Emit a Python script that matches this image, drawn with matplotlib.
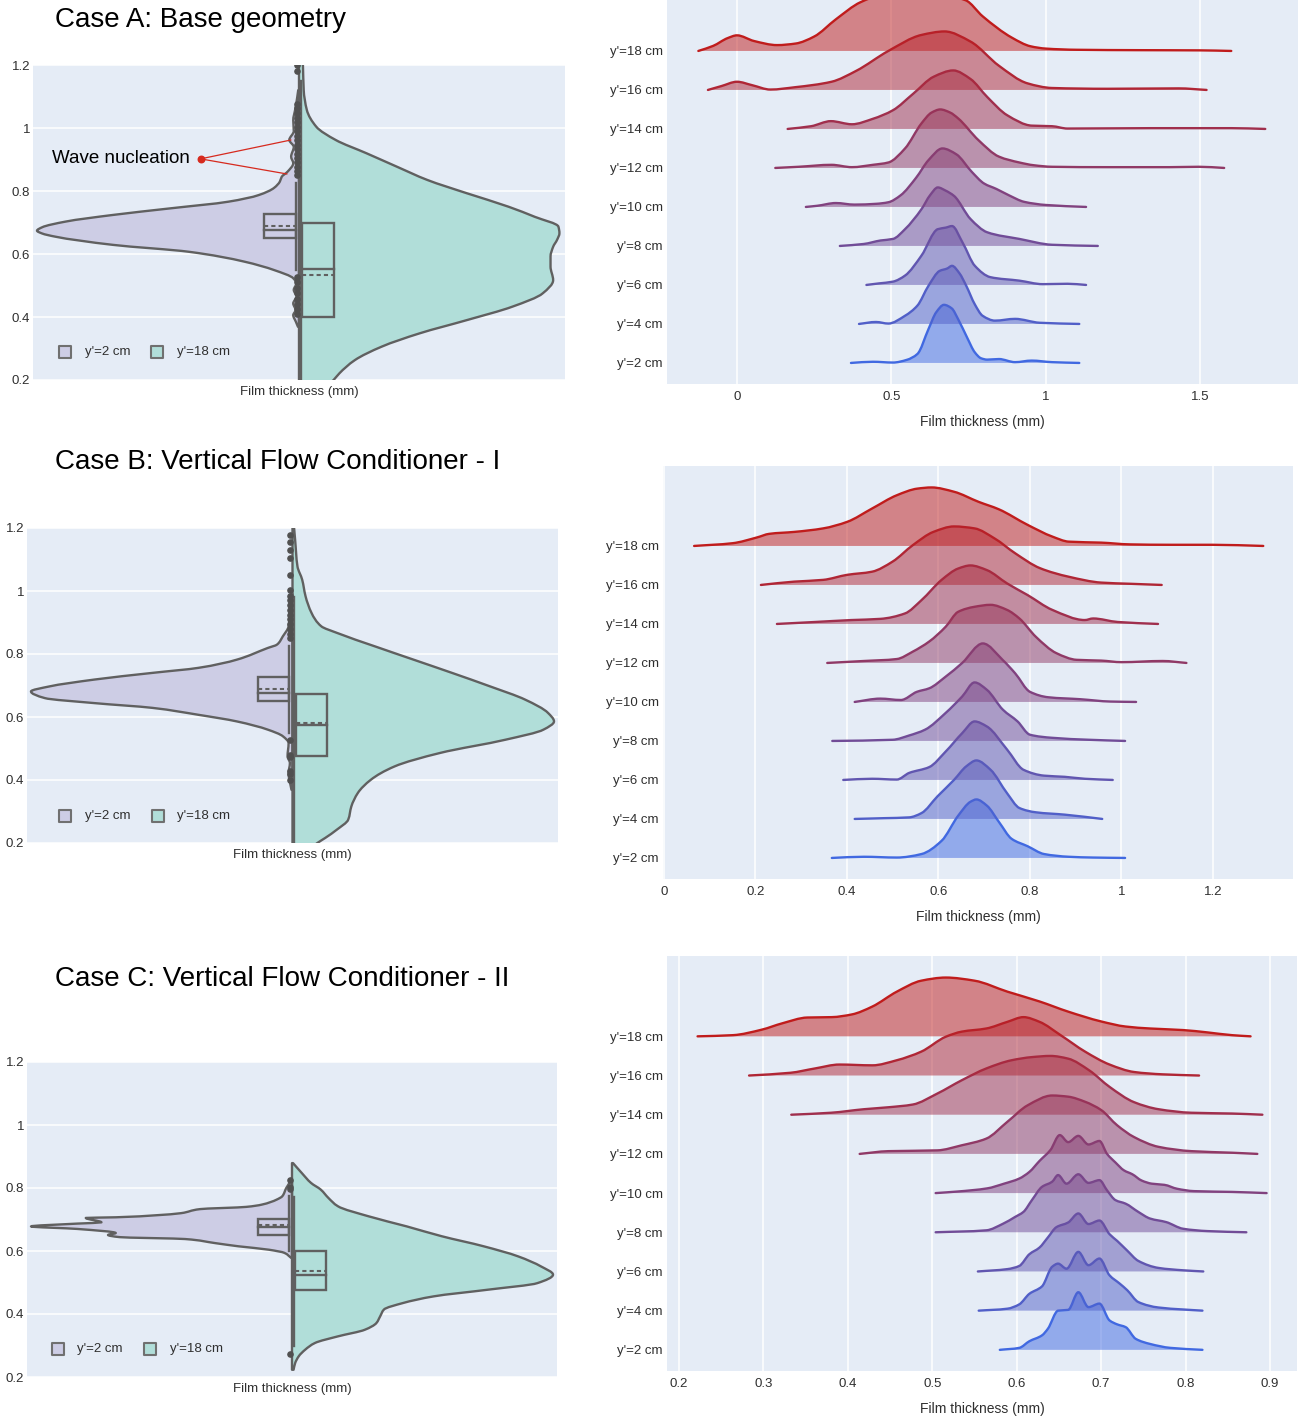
import numpy as np
import matplotlib
matplotlib.use("Agg")
import matplotlib.pyplot as plt
from matplotlib.patches import Rectangle, PathPatch
from matplotlib.path import Path

plt.rcParams['font.family'] = ['Liberation Sans', 'DejaVu Sans']

# ---------------------------------------------------------------
# Data
# ---------------------------------------------------------------
RIDGE_LABELS = ["y'=2 cm", "y'=4 cm", "y'=6 cm", "y'=8 cm", "y'=10 cm",
                "y'=12 cm", "y'=14 cm", "y'=16 cm", "y'=18 cm"]
LEGEND_LABELS = ["y'=2 cm", "y'=18 cm"]
CASE_TITLES = ["Case A: Base geometry",
               "Case B: Vertical Flow Conditioner - I",
               "Case C: Vertical Flow Conditioner - II"]

# ridgelines: (film thickness mm, ridge height in row units)
A2 = [(0.369, 0), (0.44, 0.03), (0.505, 0.01), (0.55, 0.08), (0.584, 0.23), (0.62, 0.87),
      (0.645, 1.3), (0.67, 1.49), (0.695, 1.4), (0.716, 1.12), (0.745, 0.65), (0.77, 0.27),
      (0.79, 0.12), (0.81, 0.085), (0.848, 0.1), (0.9, 0.02), (0.954, 0.06), (1.02, 0.02), (1.108, 0)]
A4 = [(0.395, 0), (0.45, 0.05), (0.49, 0.01), (0.544, 0.21), (0.584, 0.47), (0.62, 0.98),
      (0.656, 1.36), (0.68, 1.42), (0.696, 1.49), (0.72, 1.3), (0.742, 0.98), (0.77, 0.5),
      (0.795, 0.21), (0.835, 0.085), (0.9, 0.13), (0.98, 0.03), (1.108, 0)]
A6 = [(0.419, 0), (0.46, 0.04), (0.505, 0.085), (0.544, 0.24), (0.597, 0.75), (0.65, 1.43),
      (0.676, 1.47), (0.696, 1.51), (0.73, 1.09), (0.77, 0.49), (0.82, 0.2), (0.914, 0.11),
      (0.99, 0.02), (1.07, 0.03), (1.13, 0)]
A8 = [(0.333, 0), (0.41, 0.05), (0.465, 0.14), (0.505, 0.18), (0.544, 0.43), (0.597, 0.94),
      (0.625, 1.3), (0.65, 1.5), (0.675, 1.42), (0.703, 1.28), (0.756, 0.69), (0.81, 0.35),
      (0.914, 0.18), (1.02, 0.03), (1.168, 0)]
A10 = [(0.223, 0), (0.26, 0.03), (0.32, 0.1), (0.38, 0.06), (0.45, 0.08), (0.49, 0.12),
       (0.53, 0.3), (0.58, 0.75), (0.62, 1.2), (0.665, 1.5), (0.71, 1.35), (0.76, 0.9),
       (0.8, 0.6), (0.84, 0.46), (0.88, 0.3), (0.93, 0.13), (1.0, 0.05), (1.13, 0)]
A12 = [(0.124, 0), (0.2, 0.03), (0.306, 0.08), (0.372, 0.02), (0.44, 0.08), (0.49, 0.14),
       (0.544, 0.5), (0.597, 1.14), (0.63, 1.42), (0.658, 1.5), (0.69, 1.42), (0.716, 1.27),
       (0.782, 0.71), (0.848, 0.29), (0.914, 0.14), (0.96, 0.07), (1.02, 0.03), (1.2, 0.02),
       (1.4, 0.02), (1.495, 0.03), (1.577, 0)]
A14 = [(0.164, 0), (0.24, 0.07), (0.304, 0.2), (0.372, 0.12), (0.44, 0.26), (0.505, 0.48),
       (0.57, 0.9), (0.637, 1.34), (0.70, 1.5), (0.756, 1.28), (0.81, 0.82), (0.875, 0.35),
       (0.954, 0.085), (1.02, 0.07), (1.07, 0.01), (1.34, 0.02), (1.6, 0.02), (1.71, 0)]
A16 = [(-0.094, 0), (-0.05, 0.1), (0.0, 0.21), (0.05, 0.12), (0.108, 0.01), (0.188, 0.07),
       (0.306, 0.21), (0.386, 0.49), (0.49, 1.0), (0.597, 1.41), (0.672, 1.5), (0.756, 1.24),
       (0.848, 0.62), (0.94, 0.17), (1.02, 0.05), (1.2, 0.03), (1.43, 0.04), (1.52, 0)]
A18 = [(-0.125, 0), (-0.077, 0.13), (-0.03, 0.33), (0.0, 0.40), (0.055, 0.255), (0.13, 0.15),
       (0.19, 0.19), (0.25, 0.37), (0.32, 0.81), (0.40, 1.25), (0.47, 1.44), (0.57, 1.5),
       (0.66, 1.44), (0.74, 1.3), (0.795, 0.89), (0.89, 0.34), (0.95, 0.12), (1.0, 0.06),
       (1.1, 0.03), (1.3, 0.02), (1.5, 0.015), (1.6, 0)]

B2 = [(0.367, 0), (0.437, 0.03), (0.509, 0.01), (0.563, 0.1), (0.607, 0.44), (0.643, 1.08),
      (0.67, 1.44), (0.683, 1.5), (0.706, 1.34), (0.733, 0.91), (0.76, 0.49), (0.795, 0.3),
      (0.831, 0.1), (0.885, 0.03), (0.938, 0.01), (1.008, 0)]
B4 = [(0.417, 0), (0.482, 0.02), (0.536, 0.04), (0.563, 0.15), (0.598, 0.58), (0.634, 1.0),
      (0.661, 1.35), (0.683, 1.5), (0.714, 1.26), (0.75, 0.66), (0.777, 0.28), (0.813, 0.17),
      (0.876, 0.11), (0.958, 0)]
B6 = [(0.392, 0), (0.455, 0.03), (0.509, 0.01), (0.536, 0.18), (0.58, 0.33), (0.616, 0.73),
      (0.652, 1.2), (0.679, 1.5), (0.706, 1.37), (0.75, 0.78), (0.786, 0.26), (0.831, 0.11),
      (0.876, 0.08), (0.92, 0.03), (0.981, 0)]
B8 = [(0.368, 0), (0.5, 0.03), (0.536, 0.14), (0.571, 0.29), (0.616, 0.72), (0.652, 1.14),
      (0.679, 1.5), (0.706, 1.31), (0.741, 0.8), (0.773, 0.5), (0.8, 0.16), (0.849, 0.08),
      (0.929, 0.03), (1.008, 0)]
B10 = [(0.417, 0), (0.473, 0.085), (0.518, 0.05), (0.553, 0.26), (0.58, 0.35), (0.616, 0.65),
       (0.652, 1.0), (0.697, 1.5), (0.741, 1.07), (0.768, 0.73), (0.8, 0.26), (0.84, 0.12),
       (0.91, 0.07), (0.976, 0.01), (1.032, 0)]
B12 = [(0.357, 0), (0.437, 0.05), (0.509, 0.1), (0.544, 0.29), (0.58, 0.55), (0.616, 0.93),
       (0.643, 1.31), (0.679, 1.44), (0.714, 1.49), (0.75, 1.36), (0.777, 1.14), (0.813, 0.67),
       (0.858, 0.25), (0.902, 0.08), (0.956, 0.06), (1.0, 0.02), (1.09, 0.05), (1.142, 0)]
B14 = [(0.247, 0), (0.33, 0.05), (0.41, 0.1), (0.473, 0.13), (0.527, 0.27), (0.563, 0.61),
       (0.607, 1.13), (0.643, 1.42), (0.67, 1.5), (0.706, 1.38), (0.75, 1.04), (0.795, 0.74),
       (0.849, 0.36), (0.92, 0.1), (0.938, 0.14), (0.992, 0.05), (1.08, 0)]
B16 = [(0.212, 0), (0.285, 0.085), (0.348, 0.13), (0.401, 0.26), (0.455, 0.34), (0.5, 0.6),
       (0.544, 1.02), (0.589, 1.36), (0.634, 1.5), (0.679, 1.45), (0.723, 1.19), (0.768, 0.81),
       (0.822, 0.43), (0.885, 0.21), (0.956, 0.06), (1.019, 0.03), (1.088, 0)]
B18 = [(0.066, 0), (0.15, 0.07), (0.204, 0.22), (0.23, 0.31), (0.285, 0.36), (0.348, 0.45),
       (0.401, 0.62), (0.455, 0.96), (0.509, 1.30), (0.554, 1.47), (0.585, 1.5), (0.634, 1.39),
       (0.688, 1.13), (0.732, 0.94), (0.795, 0.54), (0.849, 0.24), (0.885, 0.11), (0.956, 0.085),
       (1.019, 0.04), (1.108, 0.03), (1.198, 0.03), (1.31, 0)]

C2 = [(0.58, 0), (0.603, 0.05), (0.615, 0.22), (0.63, 0.37), (0.637, 0.54), (0.649, 1.0),
      (0.661, 1.02), (0.673, 1.47), (0.685, 1.09), (0.698, 1.18), (0.71, 0.75), (0.719, 0.65),
      (0.729, 0.58), (0.741, 0.28), (0.758, 0.15), (0.782, 0.05), (0.82, 0)]
C4 = [(0.555, 0), (0.589, 0.05), (0.603, 0.16), (0.615, 0.43), (0.63, 0.62), (0.642, 1.12),
      (0.649, 1.2), (0.659, 1.07), (0.673, 1.5), (0.685, 1.16), (0.698, 1.33), (0.71, 0.9),
      (0.722, 0.69), (0.731, 0.52), (0.744, 0.22), (0.768, 0.08), (0.797, 0.03), (0.82, 0)]
C6 = [(0.554, 0), (0.589, 0.06), (0.603, 0.14), (0.615, 0.44), (0.627, 0.61), (0.637, 0.87),
      (0.647, 1.13), (0.661, 1.25), (0.673, 1.48), (0.685, 1.21), (0.698, 1.3), (0.71, 0.95),
      (0.719, 0.78), (0.731, 0.53), (0.744, 0.27), (0.768, 0.09), (0.797, 0.03), (0.821, 0)]
C8 = [(0.504, 0), (0.564, 0.05), (0.584, 0.22), (0.598, 0.39), (0.608, 0.52), (0.618, 0.82),
      (0.63, 1.16), (0.642, 1.29), (0.649, 1.46), (0.659, 1.24), (0.673, 1.48), (0.685, 1.26),
      (0.698, 1.33), (0.707, 1.07), (0.717, 0.82), (0.729, 0.73), (0.744, 0.52), (0.758, 0.35),
      (0.777, 0.26), (0.797, 0.09), (0.826, 0.03), (0.872, 0)]
C10 = [(0.504, 0), (0.53, 0.04), (0.565, 0.12), (0.585, 0.24), (0.603, 0.37), (0.615, 0.54),
       (0.627, 0.82), (0.64, 1.1), (0.651, 1.48), (0.661, 1.3), (0.673, 1.46), (0.685, 1.24),
       (0.698, 1.33), (0.707, 1.0), (0.717, 0.78), (0.727, 0.58), (0.737, 0.48), (0.748, 0.32),
       (0.76, 0.24), (0.775, 0.21), (0.79, 0.11), (0.81, 0.05), (0.855, 0.03), (0.896, 0)]
C12 = [(0.414, 0), (0.448, 0.07), (0.506, 0.09), (0.535, 0.22), (0.564, 0.39), (0.589, 0.82),
       (0.613, 1.24), (0.642, 1.49), (0.661, 1.46), (0.681, 1.33), (0.7, 1.12), (0.719, 0.73),
       (0.739, 0.43), (0.768, 0.18), (0.807, 0.07), (0.855, 0.03), (0.885, 0)]
C14 = [(0.333, 0), (0.38, 0.05), (0.419, 0.14), (0.448, 0.19), (0.477, 0.26), (0.506, 0.54),
       (0.535, 0.88), (0.564, 1.18), (0.594, 1.39), (0.618, 1.47), (0.64, 1.5), (0.661, 1.43),
       (0.686, 1.13), (0.71, 0.71), (0.739, 0.32), (0.768, 0.14), (0.807, 0.05), (0.855, 0.03),
       (0.891, 0)]
C16 = [(0.283, 0), (0.332, 0.07), (0.361, 0.18), (0.39, 0.28), (0.429, 0.26), (0.458, 0.39),
       (0.487, 0.61), (0.516, 0.99), (0.535, 1.12), (0.564, 1.2), (0.589, 1.37), (0.608, 1.49),
       (0.627, 1.37), (0.652, 1.03), (0.681, 0.61), (0.71, 0.28), (0.739, 0.09), (0.773, 0.03),
       (0.816, 0)]
C18 = [(0.222, 0), (0.264, 0.03), (0.298, 0.17), (0.322, 0.33), (0.352, 0.48), (0.381, 0.49),
       (0.405, 0.56), (0.429, 0.76), (0.458, 1.14), (0.487, 1.42), (0.516, 1.5), (0.55, 1.42),
       (0.589, 1.14), (0.627, 0.89), (0.661, 0.63), (0.7, 0.38), (0.729, 0.25), (0.758, 0.2),
       (0.797, 0.16), (0.826, 0.1), (0.855, 0.03), (0.877, 0)]

# split violins: (film thickness mm, relative half width, peak = 1)
A_LEFT = [(1.12, 0.003), (1.08, 0.01), (1.057, 0.015), (1.025, 0.022), (0.99, 0.02), (0.962, 0.037),
          (0.94, 0.02), (0.909, 0.03), (0.888, 0.022), (0.861, 0.044), (0.845, 0.066), (0.83, 0.073),
          (0.81, 0.095), (0.787, 0.154), (0.766, 0.27), (0.745, 0.49), (0.724, 0.71), (0.703, 0.89),
          (0.685, 0.98), (0.674, 1.0), (0.665, 0.98), (0.655, 0.93), (0.629, 0.71), (0.607, 0.42),
          (0.576, 0.21), (0.549, 0.095), (0.523, 0.022), (0.507, 0.01), (0.486, 0.02), (0.465, 0.01),
          (0.443, 0.022), (0.422, 0.013), (0.406, 0.022), (0.385, 0.012), (0.369, 0.004)]
A_RIGHT = [(1.25, 0.012), (1.2, 0.015), (1.12, 0.018), (1.057, 0.03), (1.004, 0.066), (0.962, 0.14),
           (0.92, 0.257), (0.877, 0.374), (0.835, 0.49), (0.793, 0.64), (0.75, 0.80), (0.718, 0.90),
           (0.687, 0.99), (0.666, 0.994), (0.645, 0.985), (0.623, 0.97), (0.592, 0.96), (0.56, 0.96),
           (0.517, 0.97), (0.475, 0.93), (0.433, 0.815), (0.39, 0.64), (0.348, 0.46), (0.306, 0.316),
           (0.263, 0.213), (0.221, 0.154), (0.2, 0.132), (0.16, 0.08)]
B_LEFT = [(0.99, 0.004), (0.978, 0.007), (0.888, 0.015), (0.856, 0.037), (0.83, 0.059), (0.819, 0.095),
          (0.782, 0.213), (0.756, 0.36), (0.74, 0.536), (0.719, 0.756), (0.697, 0.93), (0.681, 1.0),
          (0.66, 0.947), (0.644, 0.756), (0.629, 0.536), (0.607, 0.36), (0.586, 0.213), (0.56, 0.095),
          (0.539, 0.037), (0.517, 0.015), (0.475, 0.019), (0.454, 0.01), (0.422, 0.015), (0.369, 0.004)]
B_RIGHT = [(1.22, 0.004), (1.163, 0.01), (1.078, 0.019), (1.036, 0.037), (0.983, 0.05), (0.93, 0.073),
           (0.888, 0.11), (0.867, 0.17), (0.824, 0.316), (0.782, 0.463), (0.74, 0.61), (0.697, 0.756),
           (0.655, 0.89), (0.613, 0.977), (0.586, 1.0), (0.56, 0.96), (0.528, 0.815), (0.486, 0.565),
           (0.443, 0.39), (0.401, 0.30), (0.359, 0.25), (0.316, 0.225), (0.274, 0.213), (0.242, 0.169),
           (0.216, 0.125), (0.2, 0.095), (0.17, 0.05)]
C_LEFT = [(0.826, 0.004), (0.816, 0.01), (0.8, 0.022), (0.774, 0.037), (0.763, 0.059), (0.747, 0.117),
          (0.74, 0.176), (0.733, 0.352), (0.72, 0.426), (0.713, 0.529), (0.707, 0.675), (0.705, 0.79),
          (0.691, 0.73), (0.687, 0.822), (0.678, 1.0), (0.67, 0.822), (0.657, 0.675), (0.651, 0.705),
          (0.644, 0.66), (0.638, 0.41), (0.625, 0.294), (0.615, 0.206), (0.604, 0.088), (0.594, 0.029),
          (0.578, 0.003)]
C_RIGHT = [(0.879, 0.004), (0.848, 0.037), (0.816, 0.073), (0.795, 0.11), (0.768, 0.14), (0.742, 0.176),
           (0.71, 0.294), (0.678, 0.44), (0.647, 0.573), (0.615, 0.734), (0.583, 0.866), (0.551, 0.954),
           (0.525, 1.0), (0.498, 0.94), (0.477, 0.749), (0.456, 0.543), (0.435, 0.426), (0.414, 0.352),
           (0.393, 0.338), (0.371, 0.323), (0.35, 0.279), (0.329, 0.176), (0.308, 0.088), (0.287, 0.051),
           (0.266, 0.026), (0.244, 0.012), (0.223, 0.006)]

# box stats: q1, median, q3, mean, lower whisker, upper whisker
A_BOX_LEFT = [0.650, 0.676, 0.726, 0.689, 0.549, 0.824]
A_BOX_RIGHT = [0.401, 0.551, 0.700, 0.533, 0.17, 1.15]
B_BOX_LEFT = [0.650, 0.676, 0.727, 0.689, 0.549, 0.824]
B_BOX_RIGHT = [0.475, 0.576, 0.674, 0.581, 0.18, 0.98]
C_BOX_LEFT = [0.650, 0.675, 0.702, 0.684, 0.600, 0.774]
C_BOX_RIGHT = [0.475, 0.525, 0.599, 0.537, 0.300, 0.770]

A_OUTLIERS = [1.2, 1.18, 1.076, 1.062, 1.047, 1.033, 1.018, 1.003, 0.989, 0.975, 0.961, 0.947,
              0.933, 0.919, 0.905, 0.891, 0.877, 0.864, 0.852, 0.528, 0.51, 0.492, 0.475,
              0.458, 0.441, 0.425, 0.41]
B_OUTLIERS = [1.179, 1.155, 1.13, 1.105, 1.052, 1.002, 0.985, 0.97, 0.955, 0.94, 0.925, 0.91,
              0.895, 0.88, 0.865, 0.85, 0.528, 0.48, 0.473, 0.43, 0.42, 0.40]
C_OUTLIERS = [0.826, 0.802, 0.798, 0.274]

# ---------------------------------------------------------------
# Styling
# ---------------------------------------------------------------
W, H = 1301, 1419
BG = '#E5ECF6'
TXT = '#2f2f2f'
LEFT_FILL = '#CDCDE5'
RIGHT_FILL = '#B1DED9'
VLINE = '#606060'
BLUE = np.array([65, 105, 225]) / 255
RED = np.array([192, 28, 28]) / 255

fig = plt.figure(figsize=(W / 100, H / 100), dpi=100)


def px_axes(l, t, r, b):
    return fig.add_axes([l / W, 1 - b / H, (r - l) / W, (b - t) / H])


def style_axes(ax):
    ax.set_facecolor(BG)
    for s in ax.spines.values():
        s.set_visible(False)
    ax.tick_params(length=0, colors=TXT, labelsize=9.5)


def pchip_slopes(t, v):
    # shape preserving slopes, so the curve keeps the read peaks and never overshoots
    h = np.diff(t)
    d = np.diff(v) / h
    m = np.zeros_like(v)
    m[0], m[-1] = d[0], d[-1]
    for k in range(1, len(v) - 1):
        if d[k - 1] * d[k] > 0:
            w1 = 2 * h[k] + h[k - 1]
            w2 = h[k] + 2 * h[k - 1]
            m[k] = (w1 + w2) / (w1 / d[k - 1] + w2 / d[k])
    return m


def smooth_curve(t, v):
    """Bezier path segments through the read points (t increasing)."""
    t = np.asarray(t, float)
    v = np.asarray(v, float)
    m = pchip_slopes(t, v)
    verts = [(t[0], v[0])]
    codes = [Path.MOVETO]
    for k in range(len(t) - 1):
        dt = t[k + 1] - t[k]
        verts += [(t[k] + dt / 3, v[k] + m[k] * dt / 3),
                  (t[k + 1] - dt / 3, v[k + 1] - m[k + 1] * dt / 3),
                  (t[k + 1], v[k + 1])]
        codes += [Path.CURVE4] * 3
    return verts, codes


def draw_ridges(ax, ridges, xlim, xticks, xlabels):
    style_axes(ax)
    ax.set_xlim(*xlim)
    ax.set_ylim(-0.54, 10.05)
    ax.set_xticks(xticks)
    ax.set_xticklabels(xlabels)
    ax.set_yticks(range(len(ridges)))
    ax.set_yticklabels(RIDGE_LABELS)
    ax.tick_params(axis='y', pad=3)
    ax.tick_params(axis='x', pad=5)
    ax.grid(axis='x', color='white', lw=1.1)
    ax.set_axisbelow(True)
    n = len(ridges)
    for k, pts in enumerate(ridges):
        c = BLUE + (RED - BLUE) * k / (n - 1)
        x = [p[0] for p in pts]
        top = [k + p[1] for p in pts]
        verts, codes = smooth_curve(x, top)
        fill_v = verts + [(x[-1], k), (x[0], k), (x[0], k)]
        fill_c = codes + [Path.LINETO, Path.LINETO, Path.CLOSEPOLY]
        ax.add_patch(PathPatch(Path(fill_v, fill_c), facecolor=c, alpha=0.5, lw=0, zorder=2 + k))
        ax.add_patch(PathPatch(Path(verts, codes), fill=False, edgecolor=c, lw=1.7,
                               zorder=2 + k, joinstyle='round', capstyle='round'))
    ax.set_xlabel('Film thickness (mm)', fontsize=10, color=TXT, labelpad=9)


def draw_violin(ax, left, right, box_l, box_r, outliers, legend_x):
    style_axes(ax)
    ax.set_xlim(-1, 1)
    ax.set_ylim(0.2, 1.2)
    ax.set_yticks([0.2, 0.4, 0.6, 0.8, 1.0, 1.2])
    ax.set_yticklabels(['0.2', '0.4', '0.6', '0.8', '1', '1.2'])
    ax.tick_params(axis='y', pad=2)
    ax.set_xticks([0])
    ax.set_xticklabels(['Film thickness (mm)'])
    ax.tick_params(axis='x', pad=4)
    ax.grid(axis='y', color='white', lw=1.1)
    ax.set_axisbelow(True)
    scale = 0.985
    for pts, sign, fill in ((left, -1, LEFT_FILL), (right, 1, RIGHT_FILL)):
        pts = sorted(pts)
        y = [p[0] for p in pts]
        w = [sign * scale * p[1] for p in pts]
        verts, codes = smooth_curve(y, w)
        verts = [(b, a) for a, b in verts]
        shape_v = verts + [(0, y[-1]), (0, y[0]), (0, y[0])]
        shape_c = codes + [Path.LINETO, Path.LINETO, Path.CLOSEPOLY]
        ax.add_patch(PathPatch(Path(shape_v, shape_c), facecolor=fill, lw=0, zorder=2))
        ax.add_patch(PathPatch(Path(shape_v, shape_c), fill=False, edgecolor=VLINE, lw=1.7,
                               zorder=3, joinstyle='round'))
    for stats, x0, x1, xw in ((box_l, -0.13, -0.012, -0.012), (box_r, 0.012, 0.13, 0.006)):
        q1, med, q3, mean, lo, hi = stats
        ax.plot([xw, xw], [lo, hi], color=VLINE, lw=1.7, zorder=4)
        ax.add_patch(Rectangle((x0, q1), x1 - x0, q3 - q1, fill=False, ec=VLINE, lw=1.7, zorder=4))
        ax.plot([x0, x1], [med, med], color=VLINE, lw=1.7, zorder=4)
        ax.plot([x0, x1], [mean, mean], color=VLINE, lw=1.5, ls=(0, (2, 1.5)), zorder=4)
    ax.scatter(np.full(len(outliers), -0.008), outliers, s=14, color='#505050', zorder=5, clip_on=True)
    # legend
    lx, ly = legend_x
    for i, (lab, fill) in enumerate(zip(LEGEND_LABELS, (LEFT_FILL, RIGHT_FILL))):
        x = lx + i * 0.174
        ax.scatter([x], [ly], marker='s', s=80, color=fill, edgecolor='#707070', lw=1.5,
                   transform=ax.transAxes, zorder=6)
        ax.text(x + 0.037, ly, lab, transform=ax.transAxes, va='center', ha='left',
                fontsize=9.5, color=TXT, zorder=6)


# ---------------------------------------------------------------
# Case A
# ---------------------------------------------------------------
ax = px_axes(33, 65, 565, 380)
draw_violin(ax, A_LEFT, A_RIGHT, A_BOX_LEFT, A_BOX_RIGHT, A_OUTLIERS, (0.06, 0.089))
ax.annotate('', xy=(-0.03, 0.962), xytext=(-0.37, 0.902),
            arrowprops=dict(arrowstyle='-', color='#d62a1e', lw=0.9, shrinkA=0, shrinkB=0), zorder=7)
ax.annotate('', xy=(-0.045, 0.854), xytext=(-0.37, 0.902),
            arrowprops=dict(arrowstyle='-', color='#d62a1e', lw=0.9, shrinkA=0, shrinkB=0), zorder=7)
ax.scatter([-0.37], [0.902], s=22, color='#d62a1e', zorder=8)
ax.text(-0.41, 0.902, 'Wave nucleation', ha='right', va='center', fontsize=13.5, color='black', zorder=8)

ax = px_axes(667, -29, 1298, 384)
draw_ridges(ax, [A2, A4, A6, A8, A10, A12, A14, A16, A18], (-0.2265, 1.816),
            [0, 0.5, 1, 1.5], ['0', '0.5', '1', '1.5'])

# ---------------------------------------------------------------
# Case B
# ---------------------------------------------------------------
ax = px_axes(27, 528, 558, 843)
draw_violin(ax, B_LEFT, B_RIGHT, B_BOX_LEFT, B_BOX_RIGHT, B_OUTLIERS, (0.072, 0.086))

ax = px_axes(663, 466, 1293, 879)
draw_ridges(ax, [B2, B4, B6, B8, B10, B12, B14, B16, B18], (-0.002, 1.375),
            [0, 0.2, 0.4, 0.6, 0.8, 1.0, 1.2], ['0', '0.2', '0.4', '0.6', '0.8', '1', '1.2'])

# ---------------------------------------------------------------
# Case C
# ---------------------------------------------------------------
ax = px_axes(27, 1062, 557, 1377)
draw_violin(ax, C_LEFT, C_RIGHT, C_BOX_LEFT, C_BOX_RIGHT, C_OUTLIERS, (0.058, 0.089))

ax = px_axes(667, 956, 1297, 1371)
draw_ridges(ax, [C2, C4, C6, C8, C10, C12, C14, C16, C18], (0.1858, 0.932),
            [0.2, 0.3, 0.4, 0.5, 0.6, 0.7, 0.8, 0.9],
            ['0.2', '0.3', '0.4', '0.5', '0.6', '0.7', '0.8', '0.9'])

# titles
for title, ty in zip(CASE_TITLES, (20, 462, 979)):
    fig.text(55 / W, 1 - ty / H, title, fontsize=20, va='center', ha='left', color='black')

fig.savefig('out.png', dpi=100, facecolor='white')
